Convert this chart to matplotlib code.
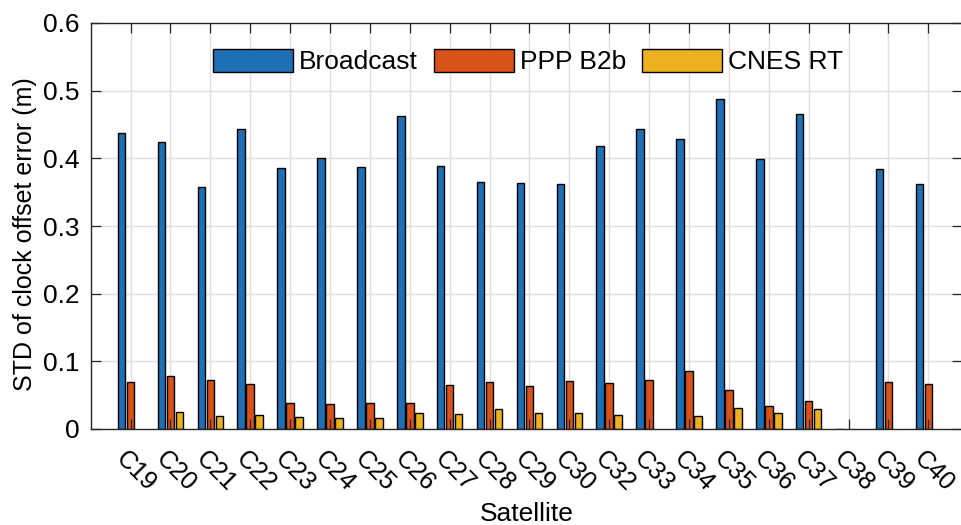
import numpy as np
import matplotlib
matplotlib.use('Agg')
import matplotlib.pyplot as plt
from matplotlib.transforms import ScaledTranslation

plt.rcParams['font.family'] = ['Liberation Sans', 'DejaVu Sans']

satellites = ['C19', 'C20', 'C21', 'C22', 'C23', 'C24', 'C25', 'C26', 'C27', 'C28',
              'C29', 'C30', 'C32', 'C33', 'C34', 'C35', 'C36', 'C37', 'C38', 'C39', 'C40']
broadcast = [0.438, 0.424, 0.358, 0.443, 0.385, 0.401, 0.387, 0.463, 0.388, 0.365,
             0.364, 0.362, 0.418, 0.444, 0.429, 0.488, 0.399, 0.466, 0.0, 0.384, 0.362]
ppp_b2b = [0.070, 0.078, 0.073, 0.067, 0.038, 0.037, 0.039, 0.039, 0.065, 0.069,
           0.063, 0.071, 0.068, 0.072, 0.086, 0.057, 0.034, 0.041, np.nan, 0.070, 0.067]
cnes_rt = [np.nan, 0.025, 0.019, 0.021, 0.017, 0.016, 0.016, 0.023, 0.022, 0.029,
           0.023, 0.024, 0.020, np.nan, 0.019, 0.031, 0.024, 0.030, np.nan, np.nan, np.nan]
series = ['Broadcast', 'PPP B2b', 'CNES RT']
colors = ['#1f6fb5', '#d95319', '#edb120']

x = np.arange(1, len(satellites) + 1)
width = 0.19
offset = 0.225

fig = plt.figure(figsize=(9.62, 5.25), dpi=100)
ax = fig.add_axes([90.7 / 962, 96 / 525, 871.5 / 962, 406 / 525])

# grid drawn by hand so tick marks stay on top of the bars
for yv in np.arange(0.1, 0.6, 0.1):
    ax.axhline(yv, color='#dfdfdf', lw=1.0, zorder=0)
for xv in x:
    ax.axvline(xv, color='#dfdfdf', lw=1.0, zorder=0)

for k, (vals, name) in enumerate(zip([broadcast, ppp_b2b, cnes_rt], series)):
    ax.bar(x + (k - 1) * offset, vals, width=width, color=colors[k],
           edgecolor='black', linewidth=1.0, label=name, zorder=1)

ax.set_xlim(0, 21.85)
ax.set_ylim(0, 0.6)
ax.tick_params(direction='in', length=7, width=0.9, color='#262626',
               labelsize=19, top=True, right=True, pad=8)
for sp in ax.spines.values():
    sp.set_color('#262626')
    sp.set_linewidth(1.0)

ax.set_yticks(np.arange(0, 0.61, 0.1))
ax.set_yticklabels(['0', '0.1', '0.2', '0.3', '0.4', '0.5', '0.6'])
ax.set_xticks(x)
ax.set_xticklabels(satellites, rotation=-45, ha='left', va='center',
                   rotation_mode='anchor', fontsize=18)
for lab in ax.get_xticklabels():
    lab.set_transform(lab.get_transform() + ScaledTranslation(-0.11, -0.15, fig.dpi_scale_trans))

ax.set_ylabel('STD of clock offset error (m)', fontsize=18)
ax.yaxis.set_label_coords(-0.062, 0.48)
ax.set_xlabel('Satellite', fontsize=19, labelpad=4)

leg = ax.legend(loc='center', bbox_to_anchor=(0.502, 0.905), ncol=3, frameon=False,
                fontsize=19, handlelength=3.03, handleheight=0.95, columnspacing=0.6,
                handletextpad=0.23, borderpad=0.2)

fig.savefig('out.png', dpi=100)
